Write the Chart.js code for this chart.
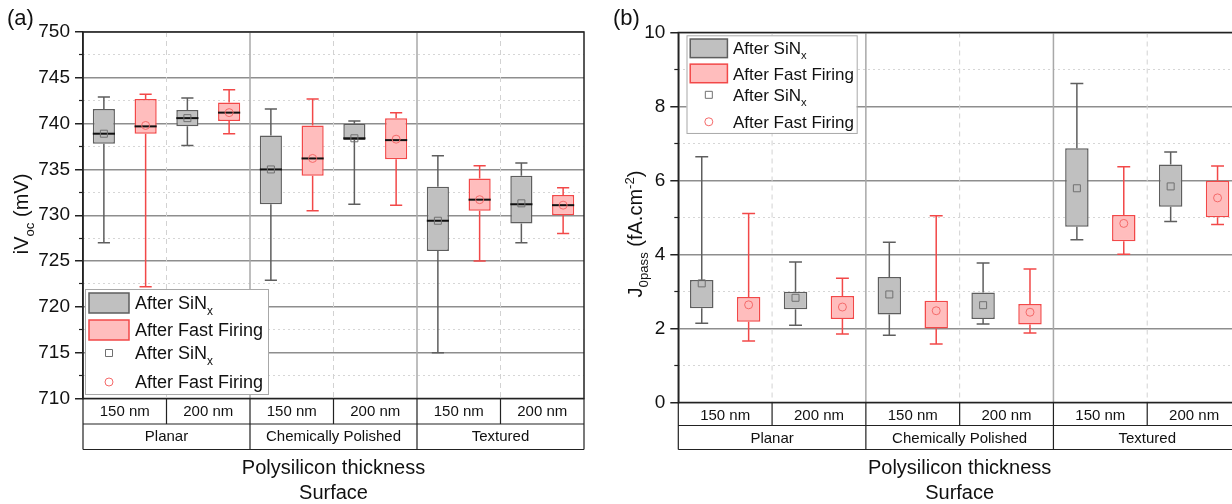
<!DOCTYPE html>
<html>
<head>
<meta charset="utf-8">
<script src="https://cdn.jsdelivr.net/npm/chart.js@4.4.1/dist/chart.umd.min.js"></script>
<style>
  html, body { margin: 0; padding: 0; background: #fff; overflow: hidden; }
  #wrap { position: relative; width: 1232px; height: 504px; overflow: hidden; }
  #voc_chart { position: absolute; left: 0; top: 0; }
  #j0_chart { position: absolute; left: 610px; top: 0; }
</style>
</head>
<body>
<div id="wrap">
  <canvas id="voc_chart" width="610" height="504"></canvas>
  <canvas id="j0_chart" width="640" height="504"></canvas>
</div>
<script>
const FONT = '"Liberation Sans", Arial, Helvetica, sans-serif';

const thickness = ['150 nm', '200 nm', '150 nm', '200 nm', '150 nm', '200 nm'];
const surface = ['Planar', 'Chemically Polished', 'Textured'];
const seriesNames = ['After SiNx', 'After Fast Firing'];

// (a) iVoc (mV): whisker ends, quartiles, median, mean
const vocSinMin = [727.0, 737.6, 722.9, 731.2, 715.0, 727.0];
const vocSinQ1 = [737.8, 739.7, 731.2, 738.2, 726.1, 729.1];
const vocSinMed = [738.9, 740.6, 735.0, 738.4, 729.4, 731.2];
const vocSinQ3 = [741.6, 741.5, 738.7, 740.0, 733.1, 734.3];
const vocSinMax = [742.9, 742.8, 741.6, 740.3, 736.5, 735.7];
const vocSinMean = [738.9, 740.6, 735.0, 738.4, 729.4, 731.3];

const vocFfMin = [722.2, 738.9, 730.5, 731.1, 725.0, 728.0];
const vocFfQ1 = [738.9, 740.3, 734.3, 736.1, 730.5, 730.0];
const vocFfMed = [739.7, 741.2, 736.2, 738.2, 731.7, 731.1];
const vocFfQ3 = [742.7, 742.3, 739.8, 740.6, 734.0, 732.2];
const vocFfMax = [743.2, 743.7, 742.7, 741.2, 735.4, 733.0];
const vocFfMean = [739.8, 741.2, 736.2, 738.3, 731.7, 731.1];

// (b) J0pass (fA.cm-2): no median line in this panel
const j0SinMin = [2.14, 2.09, 1.82, 2.12, 4.40, 4.89];
const j0SinQ1 = [2.55, 2.52, 2.38, 2.26, 4.75, 5.29];
const j0SinQ3 = [3.31, 2.99, 3.39, 2.97, 6.87, 6.43];
const j0SinMax = [6.64, 3.80, 4.33, 3.77, 8.62, 6.77];
const j0SinMean = [3.22, 2.83, 2.92, 2.63, 5.79, 5.84];

const j0FfMin = [1.66, 1.85, 1.58, 1.88, 4.01, 4.81];
const j0FfQ1 = [2.18, 2.26, 2.00, 2.11, 4.36, 5.01];
const j0FfQ3 = [2.85, 2.88, 2.75, 2.66, 5.07, 5.99];
const j0FfMax = [5.11, 3.36, 5.05, 3.61, 6.37, 6.39];
const j0FfMean = [2.64, 2.58, 2.48, 2.44, 4.84, 5.53];

const sinStyle = {fill: '#c0c0c0', line: '#5e5e5e', marker: '#707070', shape: 'square'};
const ffStyle = {fill: '#ffbdbd', line: '#f24848', marker: '#f56a6a', shape: 'circle'};
const styles = [sinStyle, ffStyle];

//- helpers -
function richText(ctx, parts, x, y, size, align) {
    let widths = parts.map(p => {
        ctx.font = (p.sub || p.sup ? size * 0.66 : size) + 'px ' + FONT;
        return ctx.measureText(p.t).width;
    });
    let total = widths.reduce((a, b) => a + b, 0);
    let cx = align === 'center' ? x - total / 2 : x;
    ctx.textAlign = 'left';
    ctx.textBaseline = 'alphabetic';
    parts.forEach((p, i) => {
        ctx.font = (p.sub || p.sup ? size * 0.66 : size) + 'px ' + FONT;
        let dy = p.sub ? size * 0.28 : (p.sup ? -size * 0.42 : 0);
        ctx.fillText(p.t, cx, y + dy);
        cx += widths[i];
    });
}

function drawMarker(ctx, st, x, y, r) {
    ctx.save();
    ctx.strokeStyle = st.marker;
    ctx.lineWidth = 1;
    ctx.beginPath();
    if (st.shape === 'square') {
        ctx.rect(x - r, y - r, 2 * r, 2 * r);
    } else {
        ctx.arc(x, y, r + 0.5, 0, Math.PI * 2);
    }
    ctx.stroke();
    ctx.restore();
}

function legendParts(i) {
    return i === 0 ? [{t: 'After SiN'}, {t: 'x', sub: true}] : [{t: seriesNames[1]}];
}

//- box plot plugin: whiskers, medians, means, separators, table, legend -
const boxPlot = {
    id: 'boxplot',
    beforeDatasetsDraw(chart, args, opts) {
        let {ctx, chartArea: a, scales: {x}} = chart;
        let step = x.getPixelForValue(1) - x.getPixelForValue(0);
        ctx.save();
        for (let k = 1; k < thickness.length; k++) {
            let bx = x.getPixelForValue(k) - step / 2;
            let major = k % 2 === 0;
            ctx.beginPath();
            ctx.lineWidth = major ? 1.5 : 1;
            ctx.strokeStyle = major ? '#a8a8a8' : '#d2d2d2';
            ctx.setLineDash(major ? [] : [5, 4]);
            ctx.moveTo(bx, a.top);
            ctx.lineTo(bx, a.bottom);
            ctx.stroke();
        }
        ctx.restore();
    },
    afterDatasetsDraw(chart, args, opts) {
        let {ctx, scales: {y}} = chart;
        ctx.save();
        opts.stats.forEach((s, i) => {
            let st = styles[i];
            chart.getDatasetMeta(i).data.forEach((bar, j) => {
                let cx = bar.x;
                let half = bar.width / 2;
                let cap = half * 0.55;
                ctx.strokeStyle = st.line;
                ctx.lineWidth = 1.5;
                ctx.beginPath();
                ctx.moveTo(cx, y.getPixelForValue(s.q3[j]));
                ctx.lineTo(cx, y.getPixelForValue(s.max[j]));
                ctx.moveTo(cx - cap, y.getPixelForValue(s.max[j]));
                ctx.lineTo(cx + cap, y.getPixelForValue(s.max[j]));
                ctx.moveTo(cx, y.getPixelForValue(s.q1[j]));
                ctx.lineTo(cx, y.getPixelForValue(s.min[j]));
                ctx.moveTo(cx - cap, y.getPixelForValue(s.min[j]));
                ctx.lineTo(cx + cap, y.getPixelForValue(s.min[j]));
                ctx.stroke();
                if (s.med) {
                    ctx.strokeStyle = '#111';
                    ctx.lineWidth = 2;
                    ctx.beginPath();
                    ctx.moveTo(cx - half, y.getPixelForValue(s.med[j]));
                    ctx.lineTo(cx + half, y.getPixelForValue(s.med[j]));
                    ctx.stroke();
                }
                drawMarker(ctx, st, cx, y.getPixelForValue(s.mean[j]), 3.5);
            });
        });
        ctx.restore();
    },
    afterDraw(chart, args, opts) {
        let {ctx, chartArea: a, scales: {x, x2}} = chart;
        let step = x.getPixelForValue(1) - x.getPixelForValue(0);
        let edge = k => x.getPixelForValue(0) - step / 2 + k * step;
        let rowMid = x.bottom;
        let rowBot = x2.top + opts.row2;
        ctx.save();
        // frame
        ctx.strokeStyle = '#222';
        ctx.lineWidth = 1.5;
        ctx.strokeRect(a.left, a.top, a.width, a.height);
        // category table
        ctx.lineWidth = 1.2;
        ctx.beginPath();
        ctx.moveTo(a.left, rowMid); ctx.lineTo(a.right, rowMid);
        ctx.moveTo(a.left, rowBot); ctx.lineTo(a.right, rowBot);
        for (let k = 0; k <= thickness.length; k++) {
            ctx.moveTo(edge(k), a.bottom);
            ctx.lineTo(edge(k), rowMid);
            if (k % 2 === 0) {
                ctx.moveTo(edge(k), rowMid);
                ctx.lineTo(edge(k), rowBot);
            }
        }
        ctx.stroke();

        // legend
        let lg = opts.legend;
        let s = lg.scale;
        ctx.fillStyle = '#fff';
        ctx.fillRect(lg.x, lg.y, 183 * s, 105 * s);
        ctx.strokeStyle = '#a8a8a8';
        ctx.lineWidth = 1;
        ctx.strokeRect(lg.x + 0.5, lg.y + 0.5, 183 * s, 105 * s);
        styles.forEach((st, i) => {
            let sy = lg.y + (4 + i * 27) * s;
            ctx.fillStyle = st.fill;
            ctx.fillRect(lg.x + 4 * s, sy, 40 * s, 20 * s);
            ctx.strokeStyle = st.line;
            ctx.lineWidth = 1.5;
            ctx.strokeRect(lg.x + 4 * s, sy, 40 * s, 20 * s);
            drawMarker(ctx, st, lg.x + 24 * s, lg.y + (64 + i * 29) * s, 3.5);
        });
        ctx.fillStyle = '#111';
        [14, 41, 64, 93].forEach((ry, r) => {
            richText(ctx, legendParts(r % 2), lg.x + 50 * s, lg.y + ry * s + lg.size * 0.36, lg.size, 'left');
        });

        // y axis title, rotated
        ctx.save();
        ctx.translate(opts.titleX, opts.titleY);
        ctx.rotate(-Math.PI / 2);
        ctx.fillStyle = '#111';
        richText(ctx, opts.yTitle, 0, 0, 20, 'center');
        ctx.restore();

        // panel tag
        ctx.fillStyle = '#111';
        ctx.font = '22px ' + FONT;
        ctx.textAlign = 'left';
        ctx.textBaseline = 'middle';
        ctx.fillText(opts.tag, opts.tagX, 19);
        ctx.restore();
    }
};

function isStep(v, step) {
    return Math.abs(v / step - Math.round(v / step)) < 1e-6;
}

function boxPanel(canvasId, p) {
    let ticksFont = {family: FONT, size: 19};
    let tableFont = {family: FONT, size: 15};
    return new Chart(document.getElementById(canvasId).getContext('2d'), {
        type: 'bar',
        data: {
            labels: thickness,
            datasets: p.stats.map((s, i) => ({
                label: seriesNames[i],
                data: s.q1.map((v, j) => [v, s.q3[j]]),
                backgroundColor: styles[i].fill,
                borderColor: styles[i].line,
                borderWidth: 1.5,
                borderSkipped: false
            }))
        },
        options: {
            responsive: false,
            animation: false,
            layout: {padding: {top: p.top, right: p.right, left: 0, bottom: 0}},
            datasets: {bar: {categoryPercentage: 1, barPercentage: p.barPct}},
            plugins: {
                legend: {display: false},
                tooltip: {enabled: false},
                boxplot: {
                    stats: p.stats, row2: p.row2, legend: p.legend,
                    yTitle: p.yTitle, titleX: p.titleX, titleY: p.titleY,
                    tag: p.tag, tagX: p.tagX
                }
            },
            scales: {
                x: {
                    weight: 0,
                    grid: {display: false, drawTicks: false},
                    border: {display: false},
                    ticks: {font: tableFont, color: '#111', padding: 4, autoSkip: false, maxRotation: 0},
                    afterFit: s => { s.height = p.row1; }
                },
                x2: {
                    type: 'category',
                    position: 'bottom',
                    labels: surface,
                    offset: true,
                    weight: 1,
                    grid: {display: false, drawTicks: false},
                    border: {display: false},
                    ticks: {font: tableFont, color: '#111', padding: 4, autoSkip: false, maxRotation: 0},
                    title: {
                        display: true,
                        text: ['Polysilicon thickness', 'Surface'],
                        color: '#111',
                        font: {family: FONT, size: 20, lineHeight: 1.25},
                        padding: {top: 4, bottom: -2}
                    },
                    afterFit: s => { s.height = p.bottomBlock; }
                },
                y: {
                    min: p.min, max: p.max, weight: 1,
                    ticks: {
                        stepSize: p.minor, font: ticksFont, color: '#111', padding: 5,
                        callback: v => (isStep(v, p.major) ? v : '')
                    },
                    grid: {
                        color: c => (isStep(c.tick.value, p.major) ? '#8e8e8e' : 'rgba(0,0,0,0)'),
                        lineWidth: 1.5,
                        tickLength: 8,
                        tickColor: c => (isStep(c.tick.value, p.major) ? '#222' : 'rgba(0,0,0,0)'),
                        tickWidth: 1.5
                    },
                    border: {display: true, color: '#222', width: 1.5},
                    afterFit: s => { s.width = p.axisLeft; }
                },
                yMinor: {
                    min: p.min, max: p.max, weight: 0,
                    ticks: {display: false, stepSize: p.minor},
                    grid: {
                        color: c => (isStep(c.tick.value, p.major) ? 'rgba(0,0,0,0)' : '#d6d6d6'),
                        lineWidth: 1,
                        tickLength: 4,
                        tickColor: c => (isStep(c.tick.value, p.major) ? 'rgba(0,0,0,0)' : '#222'),
                        tickWidth: 1.2
                    },
                    border: {display: false, dash: [2, 3]},
                    afterFit: s => { s.width = 0; }
                }
            }
        },
        plugins: [boxPlot]
    });
}

//- (a) iVoc panel -
boxPanel('voc_chart', {
    min: 710, max: 750, major: 5, minor: 2.5,
    top: 32, right: 26, axisLeft: 83, barPct: 0.53,
    row1: 25.5, row2: 25.5, bottomBlock: 80,
    stats: [
        {min: vocSinMin, q1: vocSinQ1, med: vocSinMed, q3: vocSinQ3, max: vocSinMax, mean: vocSinMean},
        {min: vocFfMin, q1: vocFfQ1, med: vocFfMed, q3: vocFfQ3, max: vocFfMax, mean: vocFfMean}
    ],
    legend: {x: 85, y: 289, scale: 1, size: 18},
    yTitle: [{t: 'iV'}, {t: 'oc', sub: true}, {t: ' (mV)'}],
    titleX: 28, titleY: 214,
    tag: '(a)', tagX: 7
});

//- (b) J0pass panel -
boxPanel('j0_chart', {
    min: 0, max: 10, major: 2, minor: 1,
    top: 32.5, right: 9, axisLeft: 68.3, barPct: 0.5,
    row1: 23, row2: 24, bottomBlock: 78.5,
    stats: [
        {min: j0SinMin, q1: j0SinQ1, q3: j0SinQ3, max: j0SinMax, mean: j0SinMean},
        {min: j0FfMin, q1: j0FfQ1, q3: j0FfQ3, max: j0FfMax, mean: j0FfMean}
    ],
    legend: {x: 76.5, y: 35.3, scale: 0.93, size: 17},
    yTitle: [{t: 'J'}, {t: '0pass', sub: true}, {t: ' (fA.cm'}, {t: '-2', sup: true}, {t: ')'}],
    titleX: 32, titleY: 234,
    tag: '(b)', tagX: 3
});
</script>
</body>
</html>
